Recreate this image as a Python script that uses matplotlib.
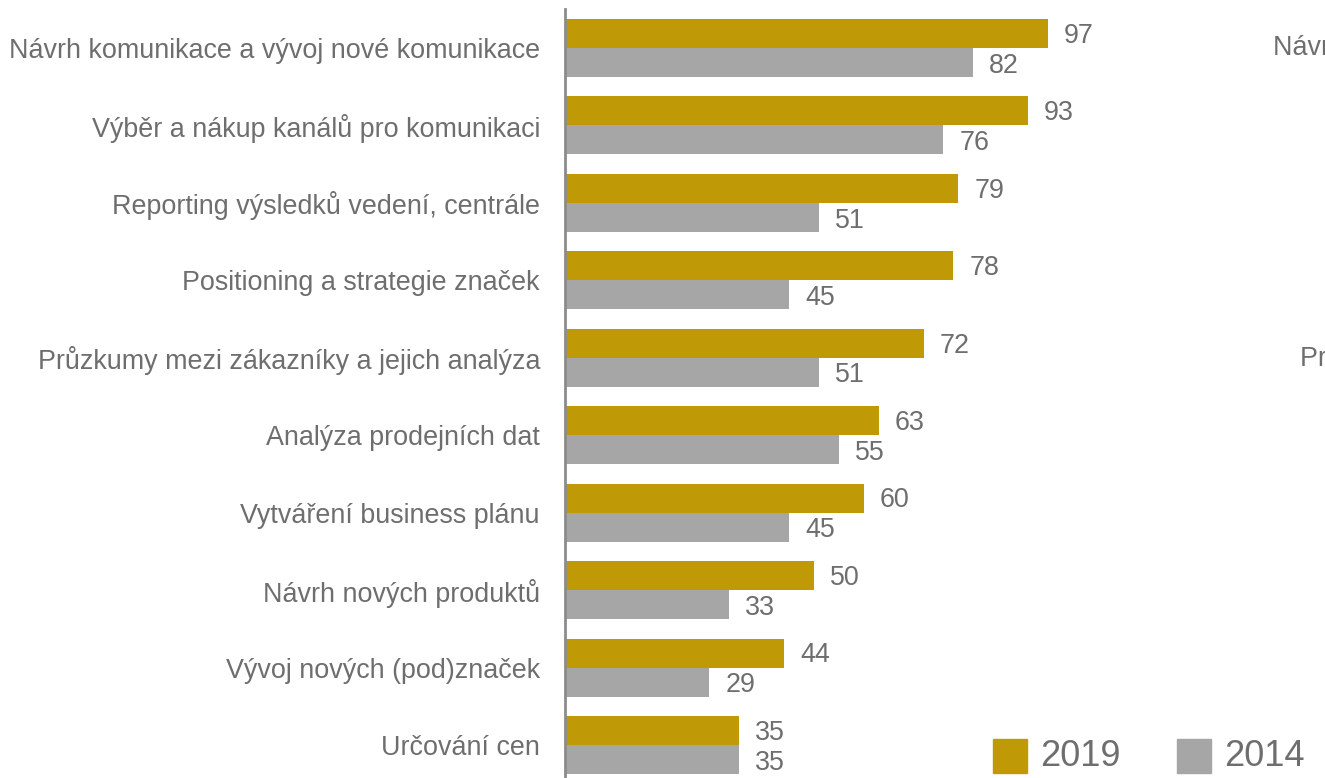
import matplotlib.pyplot as plt
import numpy as np

plt.rcParams['font.family'] = ['Liberation Sans', 'DejaVu Sans']

# ---------------------------------------------------------------
# Data
# ---------------------------------------------------------------
categories = [
    'Návrh komunikace a vývoj nové komunikace',
    'Výběr a nákup kanálů pro komunikaci',
    'Reporting výsledků vedení, centrále',
    'Positioning a strategie značek',
    'Průzkumy mezi zákazníky a jejich analýza',
    'Analýza prodejních dat',
    'Vytváření business plánu',
    'Návrh nových produktů',
    'Vývoj nových (pod)značek',
    'Určování cen',
]
vals_2019 = [97, 93, 79, 78, 72, 63, 60, 50, 44, 35]
vals_2014 = [82, 76, 51, 45, 51, 55, 45, 33, 29, 35]
series_names = ['2019', '2014']

GOLD = '#BF9A06'
GREY = '#A6A6A6'
TXT = '#6E6E6E'
FS = 19.4

W, H = 1325, 778
fig = plt.figure(figsize=(W / 100, H / 100), dpi=100)

# axes placed in pixel terms: left edge = value axis at x=565
ax_l, ax_r = 565, 1325
ax_t, ax_b = 9.3, 783.7
ax = fig.add_axes([ax_l / W, 1 - ax_b / H, (ax_r - ax_l) / W, (ax_b - ax_t) / H])

px_per_unit = (1048 - 565) / 97
ax.set_xlim(0, (ax_r - ax_l) / px_per_unit)
ax.set_ylim(len(categories) - 0.5, -0.5)

y = np.arange(len(categories))
bh = 0.375
ax.barh(y - bh / 2, vals_2019, height=bh, color=GOLD, edgecolor='none')
ax.barh(y + bh / 2, vals_2014, height=bh, color=GREY, edgecolor='none')

for i in range(len(categories)):
    ax.text(vals_2019[i] + 3.2, y[i] - bh / 2 + 0.03, str(vals_2019[i]),
            ha='left', va='center', fontsize=FS, color=TXT)
    ax.text(vals_2014[i] + 3.2, y[i] + bh / 2 + 0.04, str(vals_2014[i]),
            ha='left', va='center', fontsize=FS, color=TXT)

ax.set_yticks(y)
ax.set_yticklabels(categories, fontsize=FS, color=TXT)
ax.tick_params(axis='y', length=0, pad=18)
ax.set_xticks([])
for s in ['top', 'right', 'bottom']:
    ax.spines[s].set_visible(False)
ax.spines['left'].set_color('#8C8C8C')
ax.spines['left'].set_linewidth(2)

# legend drawn by hand at the bottom right
sq = 34
for x0, col, name in [(993, GOLD, series_names[0]), (1177, GREY, series_names[1])]:
    fig.patches.append(plt.Rectangle((x0 / W, 1 - 773 / H), sq / W, sq / H,
                                     transform=fig.transFigure, color=col))
    fig.text((x0 + sq + 13) / W, 1 - 757 / H, name, fontsize=26,
             color=TXT, ha='left', va='center')

# labels of the neighbouring chart, cut by the figure edge
fig.text(1273 / W, 1 - 48 / H, 'Návrh komunikace a vývoj nové komunikace',
         fontsize=FS, color=TXT, ha='left', va='center')
fig.text(1300 / W, 1 - 358 / H, 'Průzkumy mezi zákazníky a jejich analýza',
         fontsize=FS, color=TXT, ha='left', va='center')

fig.savefig('out.png', dpi=100)
